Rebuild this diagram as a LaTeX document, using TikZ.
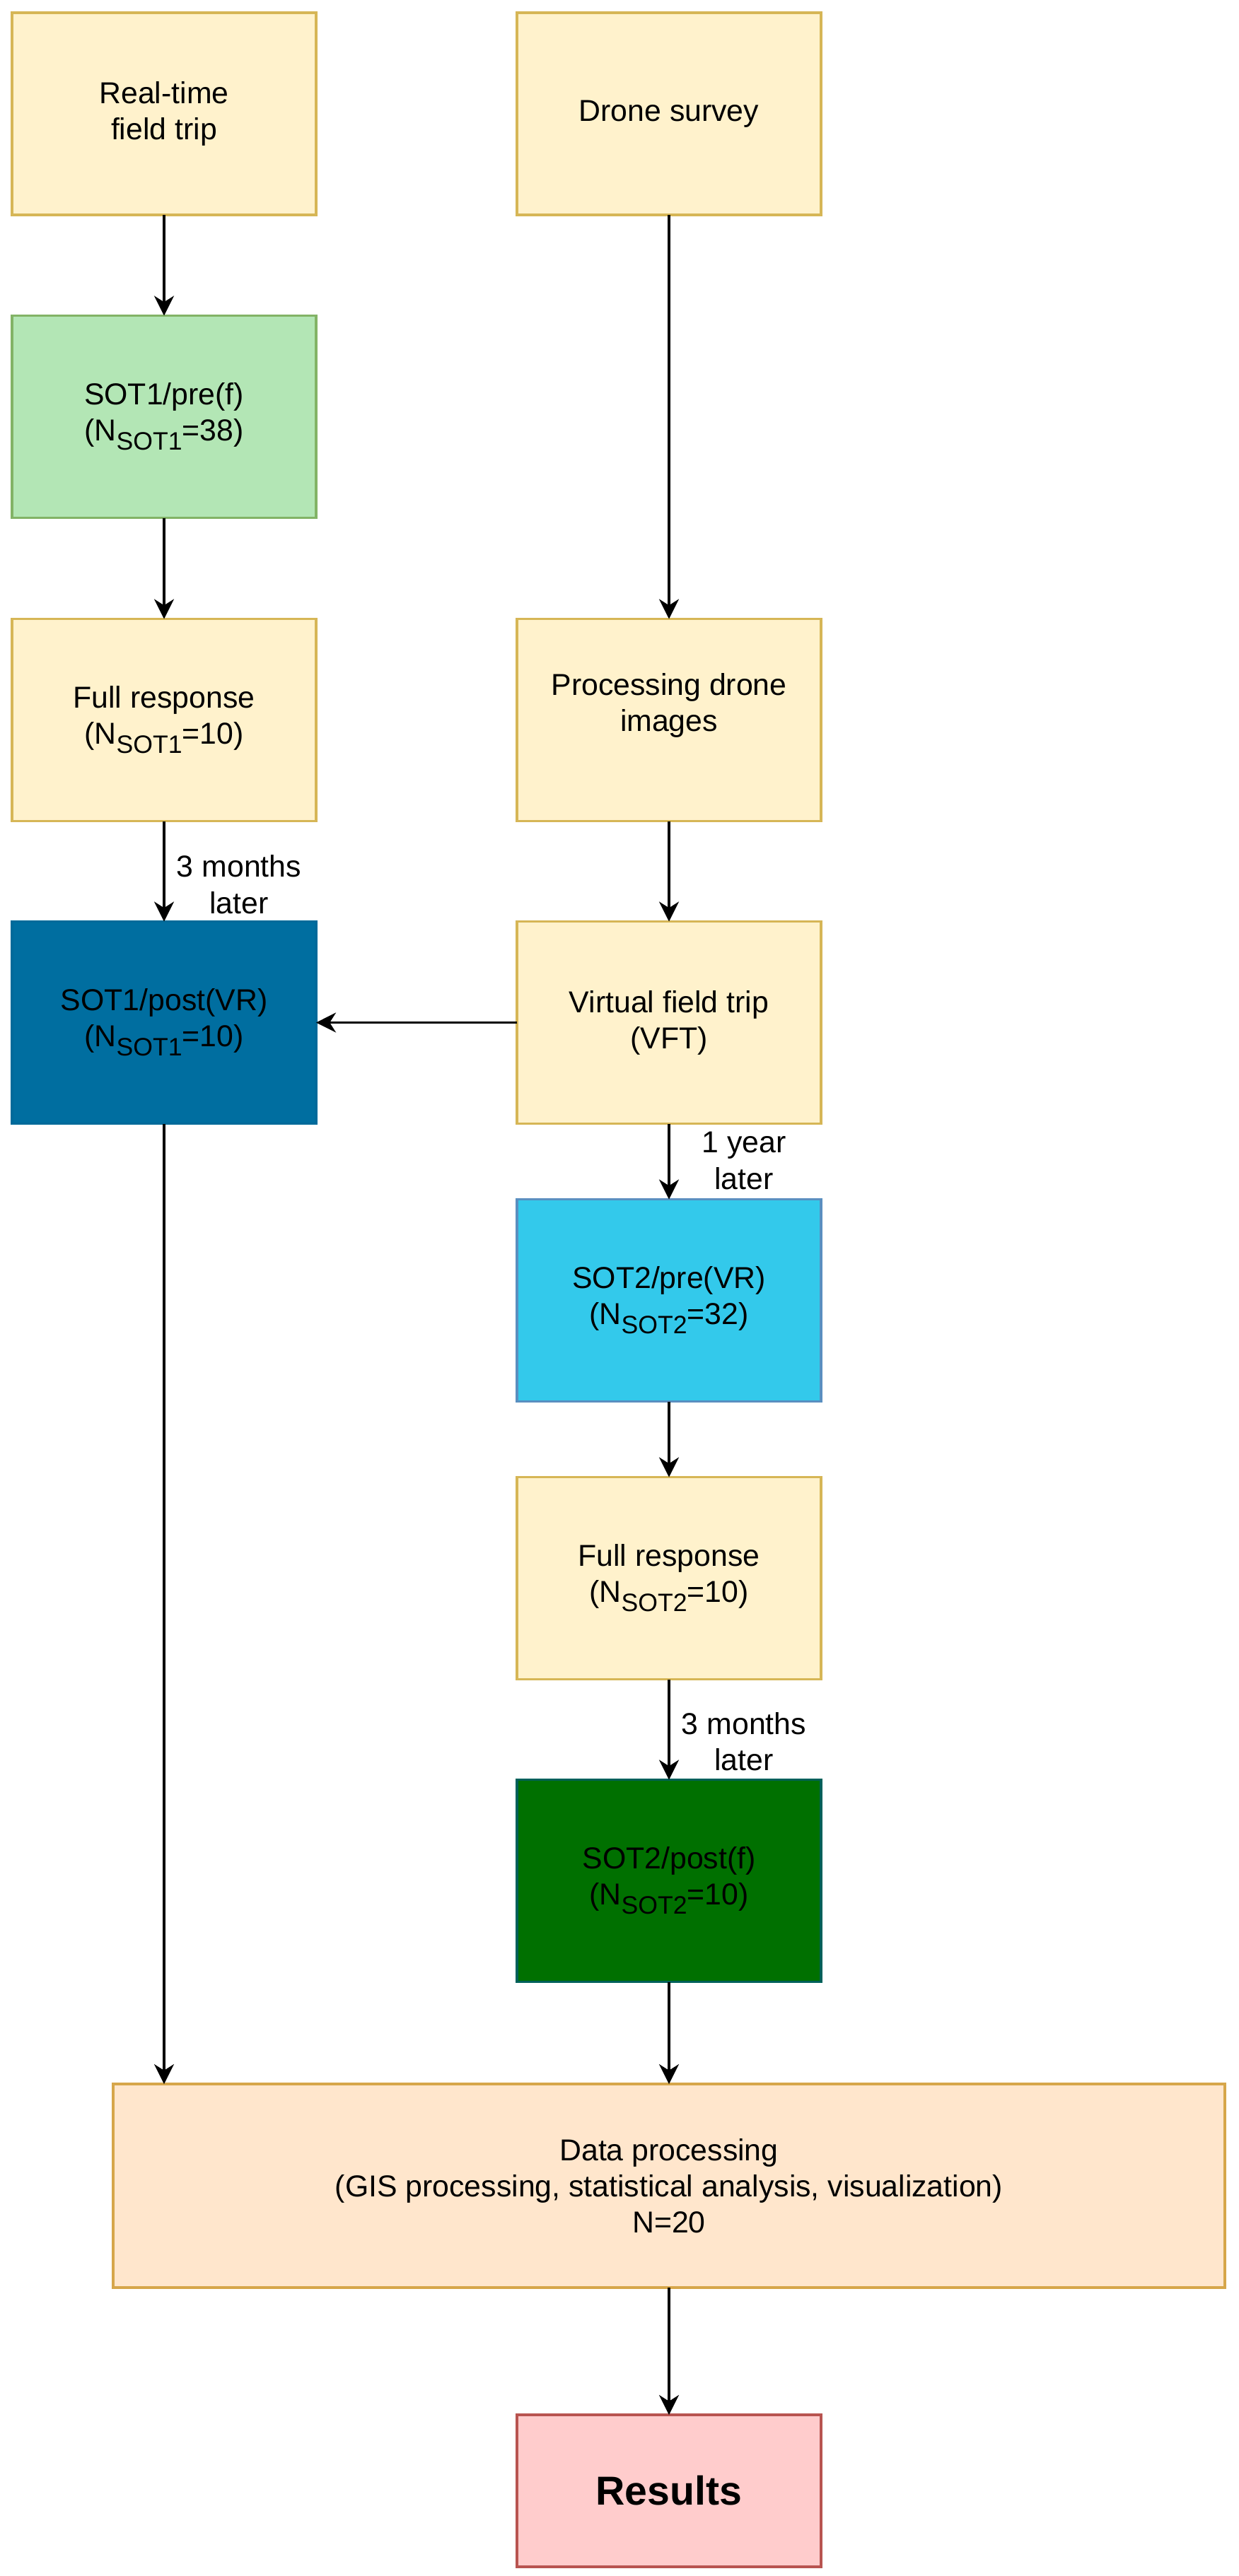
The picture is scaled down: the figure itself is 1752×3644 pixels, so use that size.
\documentclass[tikz,border=0pt]{standalone}
\usepackage{fontspec}
\setmainfont{Liberation Sans}
\usetikzlibrary{arrows.meta}
\definecolor{ylfill}{HTML}{FFF2CC}
\definecolor{ylline}{HTML}{D6B656}
\definecolor{gnfill}{HTML}{B3E6B5}
\definecolor{gnline}{HTML}{82B366}
\definecolor{dbfill}{HTML}{006EA0}
\definecolor{dbline}{HTML}{006A9A}
\definecolor{lbfill}{HTML}{33C9EB}
\definecolor{lbline}{HTML}{5A8FC0}
\definecolor{dgfill}{HTML}{007000}
\definecolor{dgline}{HTML}{00605A}
\definecolor{orfill}{HTML}{FFE6CC}
\definecolor{orline}{HTML}{D6A64A}
\definecolor{rsfill}{HTML}{FFCCCC}
\definecolor{rsline}{HTML}{B85450}
\newcommand\sbs[1]{\raisebox{-0.3em}{\fontsize{8.9}{8.9}\selectfont #1}}
\begin{document}
\begin{tikzpicture}[x=0.25pt,y=-0.25pt,
  box/.style={draw, line width=0.85pt, minimum width=107.5pt, minimum height=71.5pt,
    inner sep=0pt, outer sep=0pt, align=center, font=\fontsize{10.7}{12.75}\selectfont},
  yel/.style={box, fill=ylfill, draw=ylline},
  grn/.style={box, fill=gnfill, draw=gnline},
  dblue/.style={box, fill=dbfill, draw=dbline},
  lblue/.style={box, fill=lbfill, draw=lbline},
  dgrn/.style={box, fill=dgfill, draw=dgline},
  conn/.style={line width=0.9pt, -{Stealth[length=7pt,width=7pt,inset=2.2pt]}},
  lbl/.style={align=center, inner sep=0pt, xshift=26.5pt, font=\fontsize{10.7}{12.9}\selectfont}]
\useasboundingbox (0,0) rectangle (1752,3644);
\fill[white] (0,0) rectangle (1752,3644);

\node[yel] (rt) at (232,161) {Real-time\\field trip};
\node[yel] (ds) at (946,161) {Drone survey};
\node[grn] (s1pre) at (232,589.5) {SOT1/pre(f)\\(N\sbs{SOT1}=38)};
\node[yel] (fr1) at (232,1018.5) {Full response\\(N\sbs{SOT1}=10)};
\node[yel] (pdi) at (946,1018.5) {Processing drone\\images\\[0pt]};
\node[dblue] (s1post) at (232,1446.5) {SOT1/post(VR)\\(N\sbs{SOT1}=10)};
\node[yel] (vft) at (946,1446.5) {Virtual field trip\\(VFT)};
\node[lblue] (s2pre) at (946,1839.5) {SOT2/pre(VR)\\(N\sbs{SOT2}=32)};
\node[yel] (fr2) at (946,2232.5) {Full response\\(N\sbs{SOT2}=10)};
\node[dgrn] (s2post) at (946,2660.5) {SOT2/post(f)\\(N\sbs{SOT2}=10)};
\node[box, fill=orfill, draw=orline, minimum width=393pt, minimum height=72pt] (dp) at (946,3092)
  {Data processing\\(GIS processing, statistical analysis, visualization)\\N=20};
\node[box, fill=rsfill, draw=rsline, minimum height=53.75pt, font=\fontsize{14.3}{16}\selectfont\bfseries] (res) at (946,3523.5) {Results};

\draw[conn] (rt) -- (s1pre);
\draw[conn] (s1pre) -- (fr1);
\draw[conn] (fr1) -- node[lbl, pos=0.63] {3 months\\later} (s1post);
\draw[conn] (ds) -- (pdi);
\draw[conn] (pdi) -- (vft);
\draw[conn] (vft) -- (s1post);
\draw[conn] (vft) -- node[lbl, pos=0.49] {1 year\\later} (s2pre);
\draw[conn] (s2pre) -- (fr2);
\draw[conn] (fr2) -- node[lbl, pos=0.62] {3 months\\later} (s2post);
\draw[conn] (s2post) -- (dp);
\draw[conn] (s1post) -- (s1post.south |- dp.north);
\draw[conn] (dp) -- (res);
\end{tikzpicture}
\end{document}
